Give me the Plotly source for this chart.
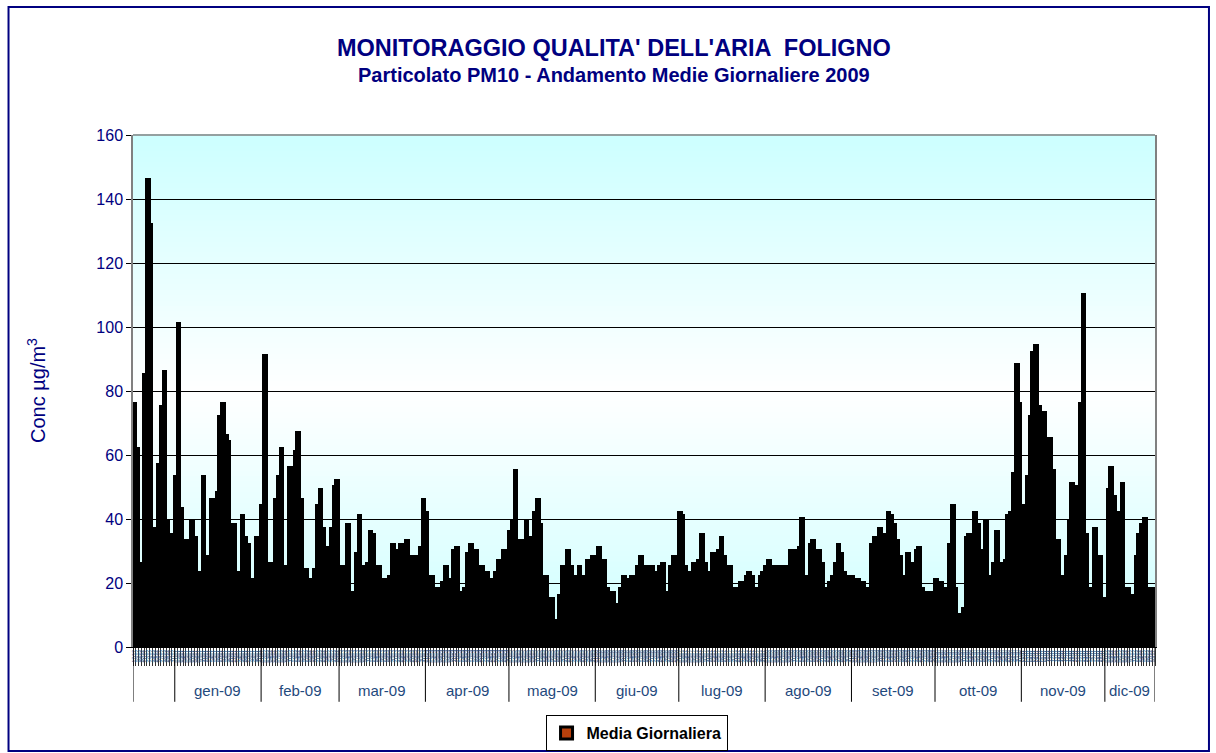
import pandas as pd
import plotly.graph_objects as go

# ---------------- data ----------------
start_date = "2008-12-17"

pm10 = [
    # 17 dic 2008 ...
    76, 62, 6, 26, 85, 146, 132, 37, 22, 57, 75, 86, 39, 34, 35, 53, 101, 43, 28, 33,
    32, 39, 34, 23, 20, 53, 25, 28, 46, 25, 48, 72, 76, 66, 64, 23,
    38, 23, 17, 41, 34, 32, 21, 18, 34, 32, 44, 91, 22, 26, 26, 46, 53, 62, 25, 17,
    56, 53, 61, 67, 46, 22, 24, 21, 12, 24, 44, 49, 37, 31, 20, 37, 50,
    52, 21, 25, 25, 38, 12, 17, 29, 41, 25, 18, 26, 36, 35, 22, 25, 4, 21, 21, 22,
    32, 28, 30, 32, 31, 33, 28, 28, 28, 18, 31, 46, 42, 22, 22, 18, 18,
    15, 20, 25, 21, 21, 30, 31, 9, 17, 18, 29, 32, 23, 30, 25, 25, 23, 23, 21, 18,
    23, 27, 26, 30, 29, 36, 39, 55, 33, 29, 33, 39, 34, 34, 42, 46, 38,
    17, 22, 14, 15, 5, 8, 16, 25, 25, 30, 25, 21, 22, 25, 22, 21, 27, 21, 28, 28,
    31, 20, 27, 18, 9, 17, 12, 13, 18, 22, 21, 17, 22, 21, 25, 28, 23,
    25, 22, 25, 21, 23, 25, 26, 12, 17, 25, 28, 28, 42, 41, 25, 18, 23, 26, 26, 27,
    35, 26, 15, 23, 29, 28, 30, 34, 28, 21, 25, 18, 15, 18, 20, 18, 22,
    23, 22, 17, 18, 22, 23, 25, 27, 25, 23, 25, 25, 25, 25, 14, 30, 28, 30, 31, 40,
    22, 22, 32, 33, 29, 30, 26, 15, 18, 20, 22, 26, 32, 29, 23, 22, 21,
    22, 20, 21, 18, 20, 18, 18, 32, 34, 26, 37, 35, 33, 42, 41, 38, 33, 28, 17, 22,
    29, 26, 23, 30, 31, 18, 14, 17, 14, 17, 21, 20, 20, 18, 16, 32, 44, 18,
    10, 4, 12, 34, 35, 30, 42, 38, 20, 30, 39, 17, 22, 26, 36, 26, 17, 27, 41, 42,
    54, 88, 76, 44, 42, 53, 72, 92, 94, 75, 73, 73, 39, 65, 55, 0, 33,
    22, 0, 28, 39, 51, 42, 50, 76, 110, 35, 18, 18, 37, 26, 28, 10, 15, 49, 56, 47,
    27, 42, 51, 14, 18, 16, 12, 28, 35, 38, 40, 17, 18, 18,
]

month_names = ["gen", "feb", "mar", "apr", "mag", "giu",
               "lug", "ago", "set", "ott", "nov", "dic"]
labelled_year = 2009
y_ticks = [0, 20, 40, 60, 80, 100, 120, 140, 160]

# ---------------- derived categories ----------------
dates = pd.date_range(start_date, periods=len(pm10), freq="D")
day_labels = [d.strftime("%d/%m/%y") for d in dates]
day_ticktext = [d.strftime("%d/%m") for d in dates]
n = len(day_labels)

# month groups (start index, end index, label)
groups = []
for i, d in enumerate(dates):
    key = (d.year, d.month)
    if not groups or groups[-1][0] != key:
        groups.append([key, i, i])
    else:
        groups[-1][2] = i

NAVY = "#000080"
MONTH_COL = "#1F497D"
FONT = "Liberation Sans, Arial, sans-serif"

fig = go.Figure()
fig.add_trace(go.Bar(
    x=day_labels, y=pm10, name="Media Giornaliera",
    marker=dict(color="#B8400C", line=dict(color="black", width=3)),
    showlegend=True,
))

shapes = []
# gradient background of the plot area (cyan -> white -> cyan)
nb = 96
c_edge = (204, 255, 255)
for k in range(nb):
    y0 = k / nb
    y1 = (k + 1) / nb
    t = abs((y0 + y1) / 2 - 0.5) * 2
    col = tuple(round(255 * (1 - t) + c * t) for c in c_edge)
    shapes.append(dict(type="rect", xref="paper", yref="paper",
                       x0=0, x1=1, y0=y0, y1=y1 + 0.002, layer="below",
                       line=dict(width=0),
                       fillcolor="rgb(%d,%d,%d)" % col))
# plot area top border (grey)
shapes.append(dict(type="line", xref="paper", yref="paper", x0=0, x1=1,
                   y0=1, y1=1, line=dict(color="#808080", width=1.5)))
# month dividers under the category axis
bounds = [g[1] - 0.5 for g in groups] + [n - 0.5]
for b in bounds:
    shapes.append(dict(type="line", xref="x", yref="paper", x0=b, x1=b,
                       y0=0, y1=-0.107, line=dict(color="black", width=1)))
# outer frame
shapes.append(dict(type="rect", xref="paper", yref="paper",
                   x0=-0.1218, x1=1.0528, y0=-0.203, y1=1.25,
                   line=dict(color=NAVY, width=2), fillcolor="rgba(0,0,0,0)"))

annotations = []
for (yr, mo), i0, i1 in groups:
    if yr != labelled_year:
        continue
    annotations.append(dict(
        x=(i0 + i1) / 2, y=-0.0859, xref="x", yref="paper",
        text="%s-%02d" % (month_names[mo - 1], yr % 100),
        showarrow=False, xanchor="center", yanchor="middle",
        font=dict(family=FONT, size=15, color=MONTH_COL)))

annotations += [
    dict(x=0.4706, y=1.17, xref="paper", yref="paper", showarrow=False,
         text="MONITORAGGIO QUALITA' DELL'ARIA  FOLIGNO",
         font=dict(family=FONT, size=23.5, color=NAVY, weight="bold"),
         xanchor="center", yanchor="middle"),
    dict(x=0.4706, y=1.117, xref="paper", yref="paper", showarrow=False,
         text="Particolato PM10 - Andamento Medie Giornaliere 2009",
         font=dict(family=FONT, size=20, color=NAVY, weight="bold"),
         xanchor="center", yanchor="middle"),
    dict(x=-0.0949, y=0.5, xref="paper", yref="paper", showarrow=False,
         text="Conc µg/m<sup>3</sup>", textangle=-90,
         font=dict(family=FONT, size=20, color=NAVY),
         xanchor="center", yanchor="middle"),
]

fig.update_layout(
    template=None,
    width=1216, height=753,
    margin=dict(l=133, r=61, t=135, b=106, autoexpand=False),
    paper_bgcolor="white", plot_bgcolor="#CCFFFF",
    bargap=0,
    showlegend=True,
    legend=dict(x=0.4927, y=-0.168, xanchor="center", yanchor="middle",
                orientation="h", bordercolor="black", borderwidth=1,
                bgcolor="white", itemwidth=30,
                font=dict(family=FONT, size=16, color="black", weight="bold")),
    xaxis=dict(type="category", range=[-0.5, n - 0.5], automargin=False,
               tickmode="array", tickvals=day_labels, ticktext=day_ticktext,
               tickangle=-90,
               tickfont=dict(family=FONT, size=5, color=MONTH_COL),
               ticks="outside", ticklen=18, tickcolor="#333333", tickwidth=1,
               tickson="boundaries",
               showline=True, linecolor="black", linewidth=1,
               showgrid=False, zeroline=False),
    yaxis=dict(range=[0, 160], tickmode="array", tickvals=y_ticks,
               automargin=False,
               ticks="outside", ticklen=5, tickcolor="black",
               tickfont=dict(family=FONT, size=16, color=NAVY),
               showgrid=True, gridcolor="black", gridwidth=1,
               zeroline=False, showline=True, linecolor="#808080",
               linewidth=1.5, mirror=True),
    shapes=shapes,
    annotations=annotations,
)

fig.write_html("out.html", config={"displayModeBar": False},
               post_script="document.body.style.margin='0px';")
